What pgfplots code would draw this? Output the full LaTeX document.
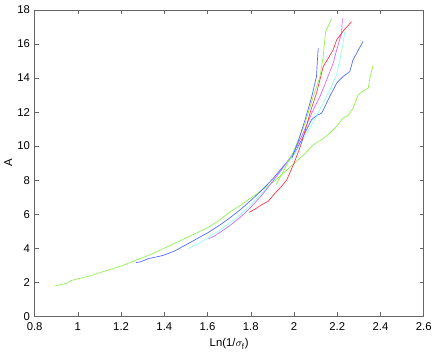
\documentclass[border=0pt]{standalone}
\usepackage{fontspec}
\setmainfont{Liberation Sans}
\usepackage{pgfplots}
\pgfplotsset{compat=1.18}

\definecolor{cgreen}{rgb}{0.55,0.95,0.3}
\definecolor{cblue}{rgb}{0.3,0.4,1}
\definecolor{ccyan}{rgb}{0.55,1,0.95}
\definecolor{cmag}{rgb}{0.8,0.4,1}
\definecolor{cred}{rgb}{1,0.2,0.25}

\begin{document}
\begin{tikzpicture}
\begin{axis}[
    at={(0,0)}, anchor=south west,
    scale only axis,
    width=292.5pt, height=230.25pt,
    xmin=0.8, xmax=2.6, ymin=0, ymax=18,
    xtick={0.8,1,...,2.6}, ytick={0,2,...,18},
    xticklabel style={/pgf/number format/fixed, yshift=-1.5pt},
    /pgf/number format/assume math mode=true,
    tick align=inside,
    tick style={black!60, line width=0.4pt},
    major tick length=3pt,
    axis line style={black!60, line width=0.5pt},
    tick label style={font=\fontsize{8.5}{10}\selectfont},
    label style={font=\fontsize{8.5}{10}\selectfont},
    xlabel={Ln(1/$\sigma_{\mathrm{f}}$)},
    ylabel={A},
    xlabel style={yshift=1pt},
    ylabel style={yshift=-3pt},
    every axis plot/.append style={line width=0.5pt, no markers},
]
% long green
\addplot[cgreen] coordinates {
(0.894,1.78) (0.93,1.88) (0.95,1.95) (0.97,2.1) (1.0,2.2) (1.05,2.35) (1.1,2.55)
(1.15,2.75) (1.2,2.95) (1.25,3.2) (1.3,3.45) (1.35,3.7) (1.4,4.0) (1.45,4.3)
(1.5,4.6) (1.55,4.9) (1.6,5.2) (1.65,5.6) (1.7,6.1) (1.75,6.5) (1.8,6.95)
(1.85,7.4) (1.9,7.85) (1.95,8.4) (2.0,8.97) (2.05,9.55) (2.089,10.08)
(2.13,10.4) (2.166,10.77) (2.2,11.2) (2.227,11.65) (2.25,11.8) (2.273,12.23)
(2.297,13.01) (2.32,13.25) (2.343,13.4) (2.351,13.99) (2.366,14.77)
};
% long blue
\addplot[cblue] coordinates {
(1.269,3.15) (1.29,3.2) (1.31,3.3) (1.33,3.4) (1.37,3.5) (1.4,3.6) (1.45,3.85)
(1.5,4.2) (1.55,4.55) (1.6,4.9) (1.65,5.3) (1.7,5.75) (1.75,6.25) (1.8,6.8)
(1.85,7.4) (1.9,8.05) (1.95,8.8) (2.004,9.59) (2.04,10.5) (2.081,11.55)
(2.105,11.8) (2.128,11.94) (2.158,12.72) (2.197,13.7) (2.227,14.09)
(2.258,14.38) (2.273,15.07) (2.3,15.7) (2.319,16.14)
};
% cyan
\addplot[ccyan] coordinates {
(1.512,3.97) (1.53,4.1) (1.56,4.3) (1.6,4.6) (1.65,5.0) (1.7,5.45) (1.75,5.95)
(1.8,6.55) (1.85,7.2) (1.9,7.9) (1.95,8.7) (2.0,9.5) (2.03,10.1) (2.058,10.77)
(2.104,11.74) (2.135,12.53) (2.166,13.31) (2.197,14.19) (2.212,15.06)
(2.227,16.04) (2.235,16.72)
};
% magenta
\addplot[cmag] coordinates {
(1.604,4.55) (1.63,4.7) (1.66,4.95) (1.7,5.3) (1.75,5.8) (1.8,6.4) (1.85,7.1)
(1.9,7.9) (1.95,8.75) (2.0,9.65) (2.04,10.7) (2.089,12.13) (2.12,12.91)
(2.151,13.89) (2.181,14.87) (2.197,15.65) (2.22,16.63) (2.224,17.5)
};
% red
\addplot[cred] coordinates {
(1.794,6.11) (1.82,6.3) (1.85,6.55) (1.88,6.75) (1.91,7.2) (1.94,7.6) (1.966,8.0)
(2.0,9.0) (2.03,10.0) (2.058,11.2) (2.08,12.2) (2.104,13.11) (2.12,13.9)
(2.135,14.67) (2.16,15.2) (2.181,15.65) (2.197,16.24) (2.23,16.8) (2.266,17.31)
};
% short green
\addplot[cgreen] coordinates {
(1.917,7.74) (1.95,8.5) (2.0,9.75) (2.05,11.3) (2.089,12.91) (2.105,13.5)
(2.12,14.09) (2.135,15.26) (2.146,16.72) (2.16,17.1) (2.174,17.5)
};
% short blue
\addplot[cblue] coordinates {
(1.99,9.3) (2.02,10.3) (2.05,11.5) (2.08,12.8) (2.104,14.09) (2.108,15.0) (2.112,15.75)
};
\end{axis}
\path[use as bounding box] (-25.5pt,-29.25pt) rectangle (301.5pt,237.75pt);
\end{tikzpicture}
\end{document}
